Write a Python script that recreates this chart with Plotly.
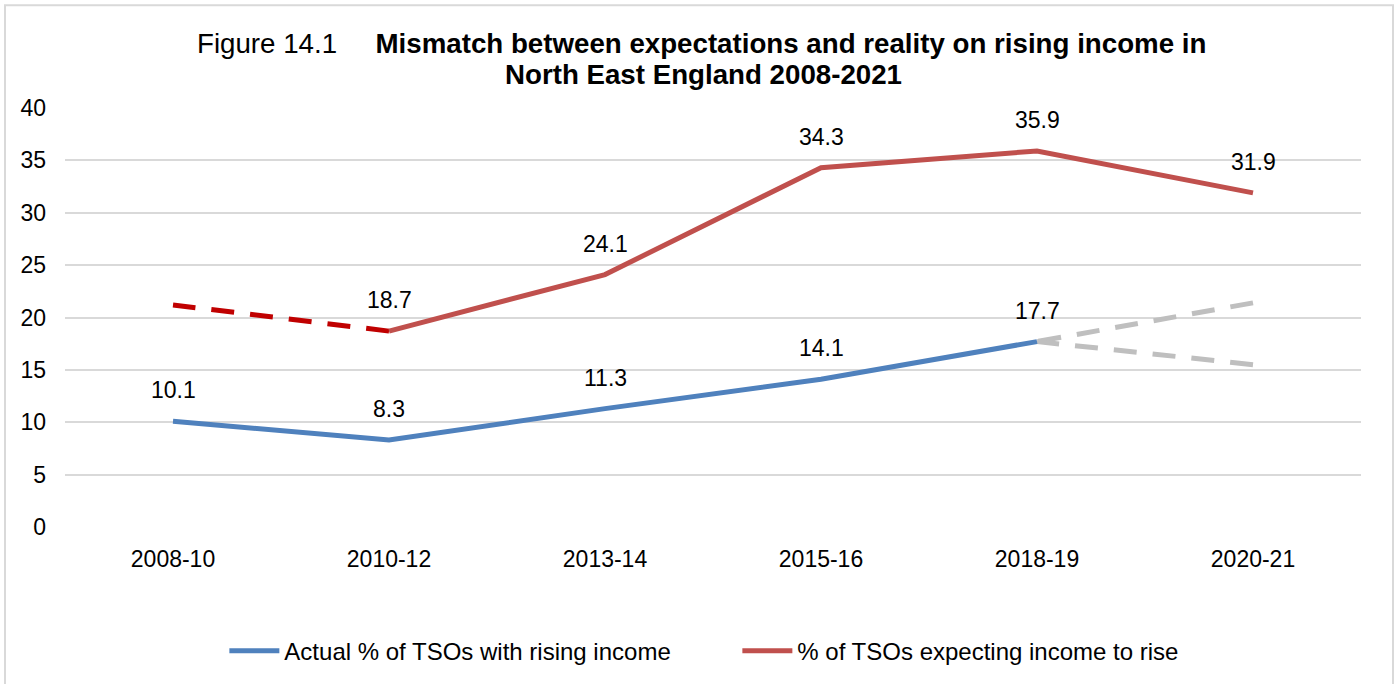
import plotly.graph_objects as go

categories = ["2008-10", "2010-12", "2013-14", "2015-16", "2018-19", "2020-21"]
actual = [10.1, 8.3, 11.3, 14.1, 17.7, None]
expecting = [None, 18.7, 24.1, 34.3, 35.9, 31.9]
# dashed segments (listed from right end to left end)
expect_dashed_x = ["2010-12", "2008-10"]
expect_dashed = [18.7, 21.2]
proj_x = ["2020-21", "2018-19"]
proj_upper = [21.4, 17.7]
proj_lower = [15.5, 17.7]
actual_labels = ["10.1", "8.3", "11.3", "14.1", "17.7", None]
expect_labels = [None, "18.7", "24.1", "34.3", "35.9", "31.9"]
title_line1 = "Figure 14.1"
title_line1_bold = "Mismatch between expectations and reality on rising income in"
title_line2_bold = "North East England 2008-2021"

FONT = "Liberation Sans, Arial, sans-serif"
BLUE = "#4F81BD"
RED = "#C0504D"
DARKRED = "#C00000"
GREY = "#BFBFBF"
FS = 23
DASH = "23px,16px"

fig = go.Figure()
fig.add_trace(go.Scatter(x=expect_dashed_x, y=expect_dashed, mode="lines",
                         line=dict(color=DARKRED, width=5, dash=DASH),
                         showlegend=False, hoverinfo="skip"))
fig.add_trace(go.Scatter(x=proj_x, y=proj_upper, mode="lines",
                         line=dict(color=GREY, width=5, dash=DASH),
                         showlegend=False, hoverinfo="skip"))
fig.add_trace(go.Scatter(x=proj_x, y=proj_lower, mode="lines",
                         line=dict(color=GREY, width=5, dash=DASH),
                         showlegend=False, hoverinfo="skip"))
fig.add_trace(go.Scatter(x=categories, y=actual, mode="lines",
                         name="Actual % of TSOs with rising income",
                         line=dict(color=BLUE, width=5)))
fig.add_trace(go.Scatter(x=categories, y=expecting, mode="lines",
                         name="% of TSOs expecting income to rise",
                         line=dict(color=RED, width=5)))

for cat, v, lab in zip(categories, actual, actual_labels):
    if lab is not None:
        fig.add_annotation(x=cat, y=v, text=lab, showarrow=False, yshift=31,
                           font=dict(family=FONT, size=FS, color="#000000"))
for cat, v, lab in zip(categories, expecting, expect_labels):
    if lab is not None:
        fig.add_annotation(x=cat, y=v, text=lab, showarrow=False, yshift=31,
                           font=dict(family=FONT, size=FS, color="#000000"))

# title as two annotation lines
nb = "\u00a0" * 5
fig.add_annotation(xref="paper", yref="paper", x=0.4915, y=1.1548,
                   xanchor="center", yanchor="middle", showarrow=False,
                   text=title_line1 + nb + "<b>" + title_line1_bold + "</b>",
                   font=dict(family=FONT, size=27.7, color="#000000"))
fig.add_annotation(xref="paper", yref="paper", x=0.4925, y=1.081,
                   xanchor="center", yanchor="middle", showarrow=False,
                   text="<b>" + title_line2_bold + "</b>",
                   font=dict(family=FONT, size=27.7, color="#000000"))

# outer border
fig.add_shape(type="rect", xref="paper", yref="paper",
              x0=-0.0463, x1=1.0247, y0=-0.40, y1=1.245,
              line=dict(color="#D9D9D9", width=2), fillcolor="rgba(0,0,0,0)")

fig.update_layout(
    width=1397, height=684,
    margin=dict(l=65, r=36, t=108, b=156),
    paper_bgcolor="white", plot_bgcolor="white",
    font=dict(family=FONT, size=FS, color="#000000"),
    showlegend=True,
    legend=dict(orientation="h", x=0.5188, xanchor="center", y=-0.293, yanchor="middle",
                font=dict(family=FONT, size=24), itemwidth=50,
                entrywidth=448, entrywidthmode="pixels",
                bgcolor="rgba(0,0,0,0)"),
    xaxis=dict(type="category", categoryorder="array", categoryarray=categories,
               range=[-0.5, 5.5], showgrid=False, zeroline=False,
               showline=False, ticks="", ticklabelstandoff=16,
               tickfont=dict(family=FONT, size=FS)),
    yaxis=dict(range=[0, 40], dtick=5, showgrid=True, gridcolor="#D9D9D9", gridwidth=2,
               zeroline=False, showline=False, ticks="", ticklabelstandoff=18,
               tickfont=dict(family=FONT, size=FS)),
)

fig.write_html("out.html", config={"displayModeBar": False},
               post_script="document.body.style.margin='0';")
